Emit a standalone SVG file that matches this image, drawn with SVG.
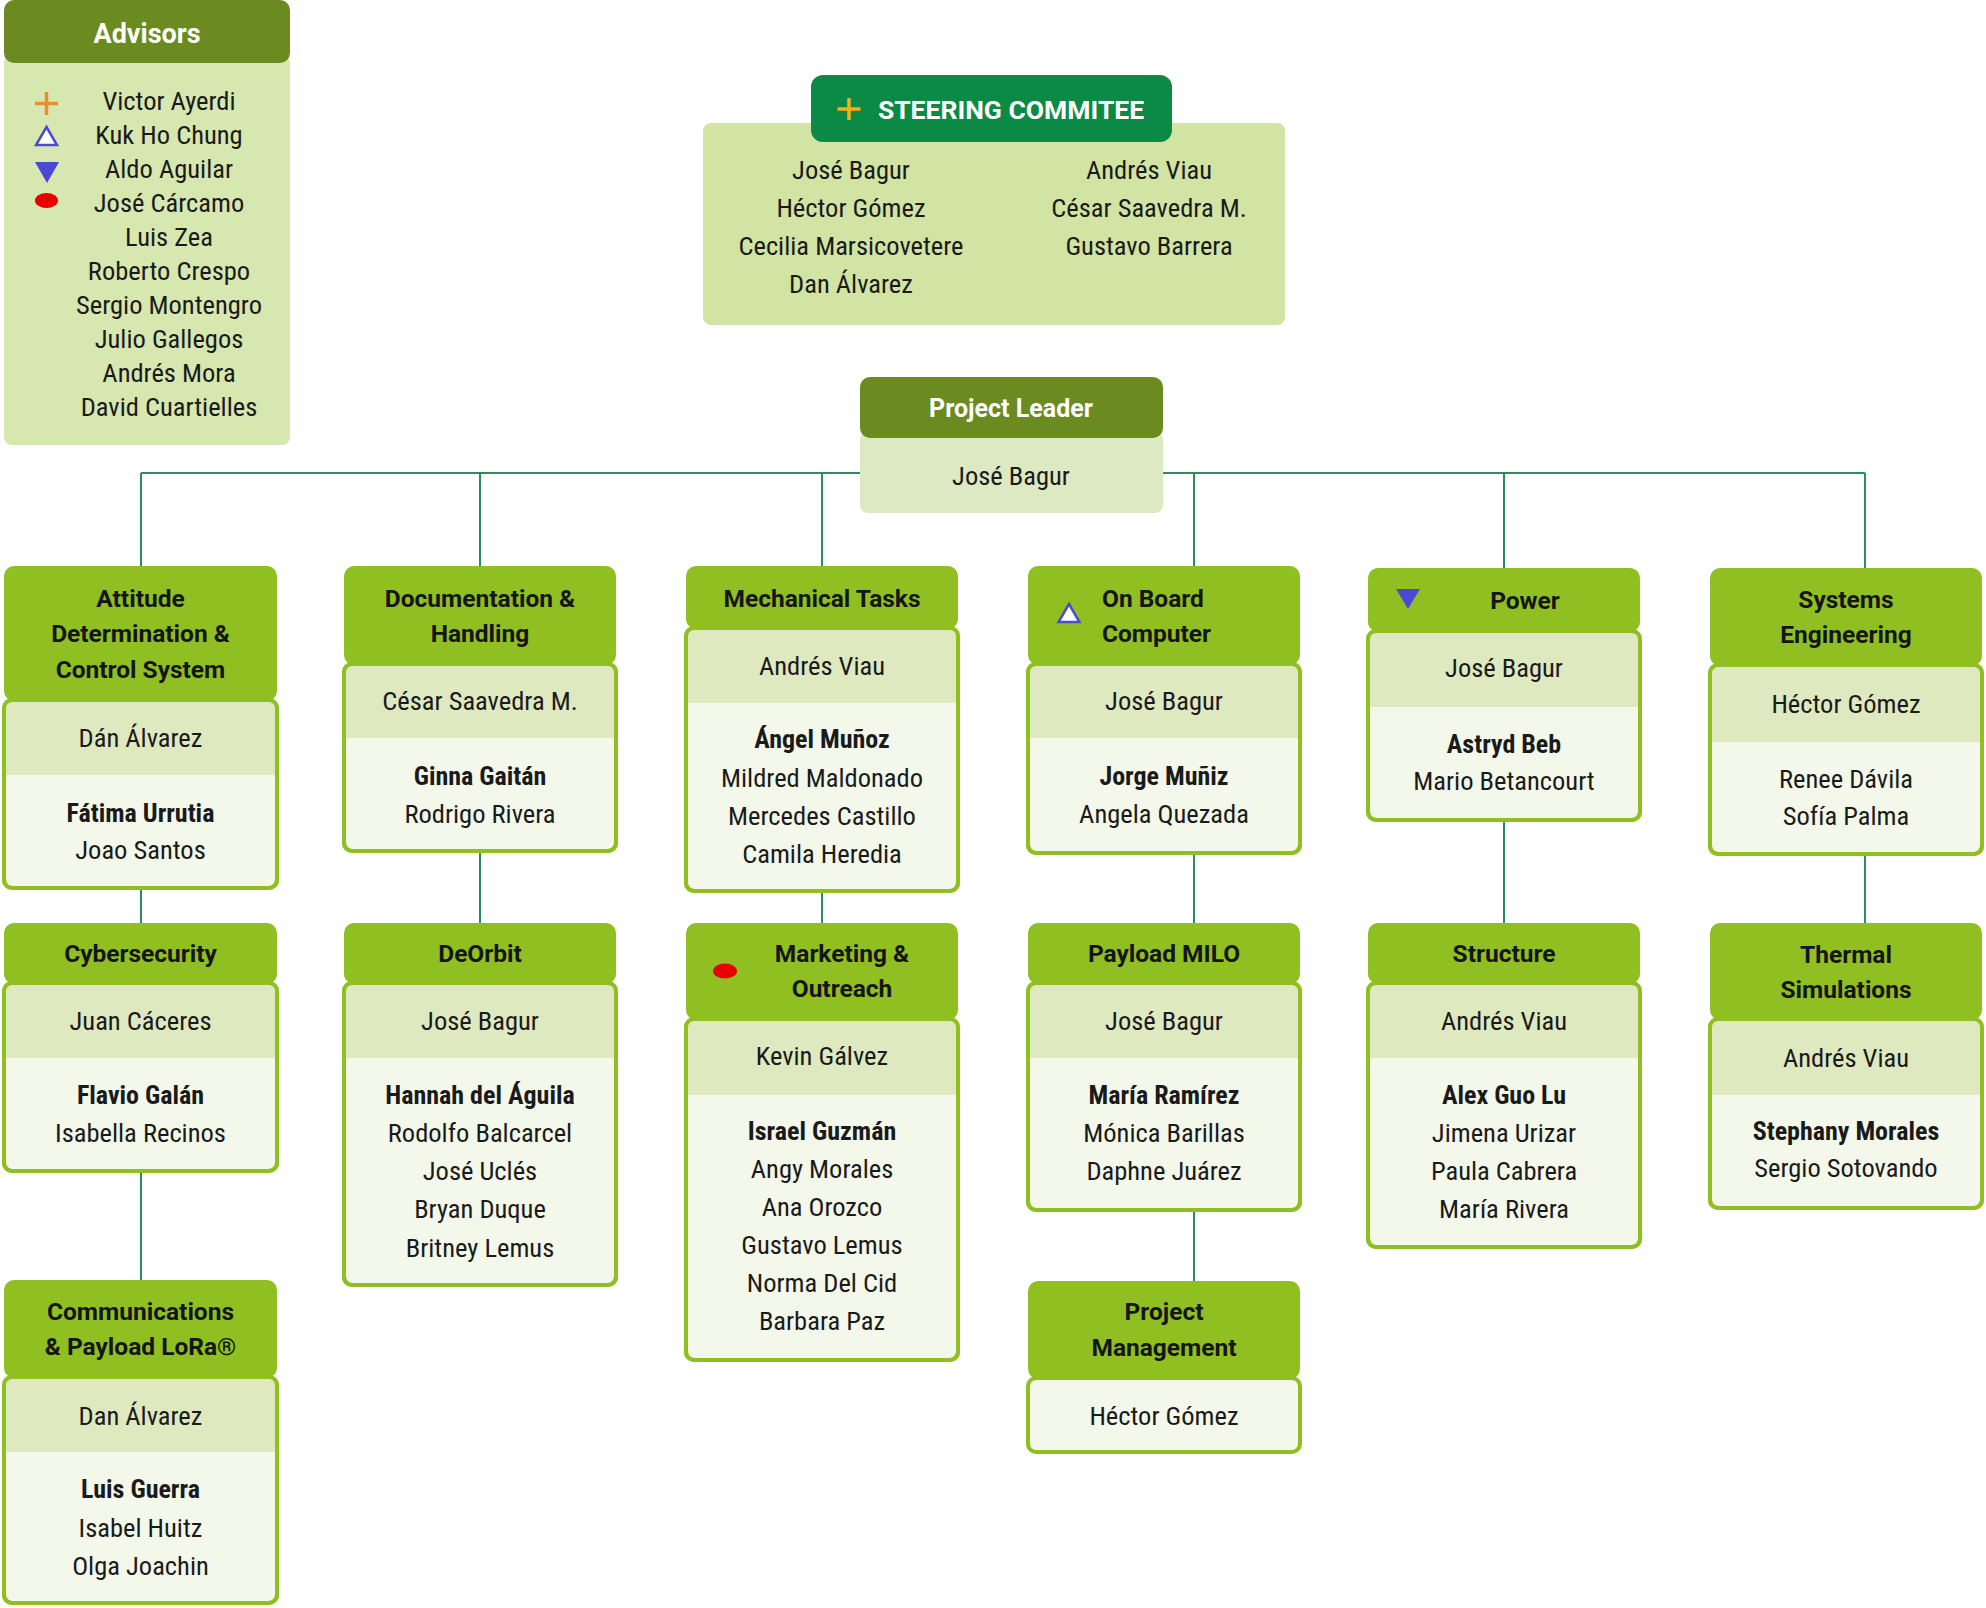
<svg xmlns="http://www.w3.org/2000/svg" width="1986" height="1608" viewBox="0 0 1986 1608">
<style>
.hd{fill:#8fbf21}
.bd{fill:#f3f8ea;stroke:#8fbf21;stroke-width:4}
.bs{fill:none;stroke:#8fbf21;stroke-width:4}
.ld{fill:#dfe9c0}
.t{font-family:Roboto,'Liberation Sans',sans-serif;font-stretch:75%;font-size:26.5px;fill:#1a1a1a;text-anchor:middle}
.b{font-weight:bold;font-stretch:82%;font-size:26px}
.h{font-family:Roboto,'Liberation Sans',sans-serif;font-weight:bold;font-size:24.5px;fill:#151515;text-anchor:middle}
.w{fill:#ffffff}
.cn{stroke:#2b8c5e;stroke-width:2;fill:none}
.up{fill:#ffffff;stroke:#4b4bcf;stroke-width:2.5;stroke-linejoin:miter}
.dn{fill:#4949d6}
.dot{fill:#e80000}
</style>
<rect width="1986" height="1608" fill="#ffffff"/>

<g id="connectors">
<path class="cn" d="M141,473 H1865"/>
<path class="cn" d="M141,473 V566 M480,473 V566 M822,473 V566 M1194,473 V566 M1504,473 V568 M1865,473 V568"/>
<path class="cn" d="M141,890 V923 M141,1173 V1280 M480,853 V923 M822,893 V923 M1194,855 V923 M1194,1212 V1281 M1504,822 V923 M1865,856 V923"/>
</g>

<g id="advisors">
<rect x="4" y="55" width="286" height="390" rx="8" fill="#d6e7b0"/>
<rect x="4" y="0" width="286" height="63" rx="10" fill="#6b8a1f"/>
<text class="h w" x="147" y="43" style="font-size:27px">Advisors</text>
<path d="M35,103.5 H58 M46.5,92 V115" stroke="#f08c28" stroke-width="3.5" fill="none"/>
<polygon class="up" points="46.5,127 57,145 36,145"/>
<polygon class="dn" points="35,162 59,162 47,183"/>
<ellipse class="dot" cx="46.5" cy="200.5" rx="11.5" ry="7.5"/>
<text class="t" x="169" y="110">Victor Ayerdi</text>
<text class="t" x="169" y="144">Kuk Ho Chung</text>
<text class="t" x="169" y="178">Aldo Aguilar</text>
<text class="t" x="169" y="212">José Cárcamo</text>
<text class="t" x="169" y="246">Luis Zea</text>
<text class="t" x="169" y="280">Roberto Crespo</text>
<text class="t" x="169" y="314">Sergio Montengro</text>
<text class="t" x="169" y="348">Julio Gallegos</text>
<text class="t" x="169" y="382">Andrés Mora</text>
<text class="t" x="169" y="416">David Cuartielles</text>
</g>

<g id="steering">
<rect x="703" y="123" width="582" height="202" rx="8" fill="#d2e4a4"/>
<rect x="811" y="75" width="361" height="67" rx="12" fill="#0b8a45"/>
<path d="M837.5,109 H860.5 M849,98 V120" stroke="#f5b01a" stroke-width="3.5" fill="none"/>
<text class="h w" x="1011" y="119" style="font-size:26.5px;font-stretch:91%">STEERING COMMITEE</text>
<text class="t" x="851" y="179">José Bagur</text>
<text class="t" x="851" y="217">Héctor Gómez</text>
<text class="t" x="851" y="255">Cecilia Marsicovetere</text>
<text class="t" x="851" y="293">Dan Álvarez</text>
<text class="t" x="1149" y="179">Andrés Viau</text>
<text class="t" x="1149" y="217">César Saavedra M.</text>
<text class="t" x="1149" y="255">Gustavo Barrera</text>
</g>

<g id="leader">
<rect x="860" y="432" width="303" height="81" rx="8" fill="#dde9c3"/>
<rect x="860" y="377" width="303" height="61" rx="10" fill="#6b8a1f"/>
<text class="h w" x="1011" y="417" style="font-size:25px">Project Leader</text>
<text class="t" x="1011" y="485">José Bagur</text>
</g>

<g id="adcs">
<rect class="bd" x="4" y="700" width="273" height="188" rx="8"/>
<path class="ld" d="M4,775 V708 Q4,700 12,700 H269 Q277,700 277,708 V775 Z"/>
<rect class="bs" x="4" y="700" width="273" height="188" rx="8"/>
<rect class="hd" x="4" y="566" width="273" height="135" rx="10"/>
<text class="h" x="140.5" y="607">Attitude</text>
<text class="h" x="140.5" y="642">Determination &amp;</text>
<text class="h" x="140.5" y="678">Control System</text>
<text class="t" x="140.5" y="747">Dán Álvarez</text>
<text class="t b" x="140.5" y="822">Fátima Urrutia</text>
<text class="t" x="140.5" y="859">Joao Santos</text>
</g>

<g id="documentation">
<rect class="bd" x="344" y="664" width="272" height="187" rx="8"/>
<path class="ld" d="M344,738 V672 Q344,664 352,664 H608 Q616,664 616,672 V738 Z"/>
<rect class="bs" x="344" y="664" width="272" height="187" rx="8"/>
<rect class="hd" x="344" y="566" width="272" height="99" rx="10"/>
<text class="h" x="480" y="607">Documentation &amp;</text>
<text class="h" x="480" y="642">Handling</text>
<text class="t" x="480" y="710">César Saavedra M.</text>
<text class="t b" x="480" y="785">Ginna Gaitán</text>
<text class="t" x="480" y="823">Rodrigo Rivera</text>
</g>

<g id="mechanical">
<rect class="bd" x="686" y="628" width="272" height="263" rx="8"/>
<path class="ld" d="M686,703 V636 Q686,628 694,628 H950 Q958,628 958,636 V703 Z"/>
<rect class="bs" x="686" y="628" width="272" height="263" rx="8"/>
<rect class="hd" x="686" y="566" width="272" height="63" rx="10"/>
<text class="h" x="822" y="607">Mechanical Tasks</text>
<text class="t" x="822" y="675">Andrés Viau</text>
<text class="t b" x="822" y="748">Ángel Muñoz</text>
<text class="t" x="822" y="787">Mildred Maldonado</text>
<text class="t" x="822" y="825">Mercedes Castillo</text>
<text class="t" x="822" y="863">Camila Heredia</text>
</g>

<g id="onboard">
<rect class="bd" x="1028" y="664" width="272" height="189" rx="8"/>
<path class="ld" d="M1028,738 V672 Q1028,664 1036,664 H1292 Q1300,664 1300,672 V738 Z"/>
<rect class="bs" x="1028" y="664" width="272" height="189" rx="8"/>
<rect class="hd" x="1028" y="566" width="272" height="99" rx="10"/>
<polygon class="up" points="1069,604 1079.5,622 1058.5,622"/>
<text class="h" x="1102" y="607" style="text-anchor:start">On Board</text>
<text class="h" x="1102" y="642" style="text-anchor:start">Computer</text>
<text class="t" x="1164" y="710">José Bagur</text>
<text class="t b" x="1164" y="785">Jorge Muñiz</text>
<text class="t" x="1164" y="823">Angela Quezada</text>
</g>

<g id="power">
<rect class="bd" x="1368" y="631" width="272" height="189" rx="8"/>
<path class="ld" d="M1368,707 V639 Q1368,631 1376,631 H1632 Q1640,631 1640,639 V707 Z"/>
<rect class="bs" x="1368" y="631" width="272" height="189" rx="8"/>
<rect class="hd" x="1368" y="568" width="272" height="64" rx="10"/>
<polygon class="dn" points="1396,589 1420,589 1408,609"/>
<text class="h" x="1525" y="609">Power</text>
<text class="t" x="1504" y="677">José Bagur</text>
<text class="t b" x="1504" y="753">Astryd Beb</text>
<text class="t" x="1504" y="790">Mario Betancourt</text>
</g>

<g id="systems">
<rect class="bd" x="1710" y="665" width="272" height="189" rx="8"/>
<path class="ld" d="M1710,742 V673 Q1710,665 1718,665 H1974 Q1982,665 1982,673 V742 Z"/>
<rect class="bs" x="1710" y="665" width="272" height="189" rx="8"/>
<rect class="hd" x="1710" y="568" width="272" height="98" rx="10"/>
<text class="h" x="1846" y="608">Systems</text>
<text class="h" x="1846" y="643">Engineering</text>
<text class="t" x="1846" y="713">Héctor Gómez</text>
<text class="t" x="1846" y="788">Renee Dávila</text>
<text class="t" x="1846" y="825">Sofía Palma</text>
</g>

<g id="cybersecurity">
<rect class="bd" x="4" y="983" width="273" height="188" rx="8"/>
<path class="ld" d="M4,1058 V991 Q4,983 12,983 H269 Q277,983 277,991 V1058 Z"/>
<rect class="bs" x="4" y="983" width="273" height="188" rx="8"/>
<rect class="hd" x="4" y="923" width="273" height="61" rx="10"/>
<text class="h" x="140.5" y="962">Cybersecurity</text>
<text class="t" x="140.5" y="1030">Juan Cáceres</text>
<text class="t b" x="140.5" y="1104">Flavio Galán</text>
<text class="t" x="140.5" y="1142">Isabella Recinos</text>
</g>

<g id="deorbit">
<rect class="bd" x="344" y="983" width="272" height="302" rx="8"/>
<path class="ld" d="M344,1058 V991 Q344,983 352,983 H608 Q616,983 616,991 V1058 Z"/>
<rect class="bs" x="344" y="983" width="272" height="302" rx="8"/>
<rect class="hd" x="344" y="923" width="272" height="61" rx="10"/>
<text class="h" x="480" y="962">DeOrbit</text>
<text class="t" x="480" y="1030">José Bagur</text>
<text class="t b" x="480" y="1104">Hannah del Águila</text>
<text class="t" x="480" y="1142">Rodolfo Balcarcel</text>
<text class="t" x="480" y="1180">José Uclés</text>
<text class="t" x="480" y="1218">Bryan Duque</text>
<text class="t" x="480" y="1257">Britney Lemus</text>
</g>

<g id="marketing">
<rect class="bd" x="686" y="1019" width="272" height="341" rx="8"/>
<path class="ld" d="M686,1095 V1027 Q686,1019 694,1019 H950 Q958,1019 958,1027 V1095 Z"/>
<rect class="bs" x="686" y="1019" width="272" height="341" rx="8"/>
<rect class="hd" x="686" y="923" width="272" height="97" rx="10"/>
<ellipse class="dot" cx="725" cy="971" rx="12" ry="7.5"/>
<text class="h" x="842" y="962">Marketing &amp;</text>
<text class="h" x="842" y="997">Outreach</text>
<text class="t" x="822" y="1065">Kevin Gálvez</text>
<text class="t b" x="822" y="1140">Israel Guzmán</text>
<text class="t" x="822" y="1178">Angy Morales</text>
<text class="t" x="822" y="1216">Ana Orozco</text>
<text class="t" x="822" y="1254">Gustavo Lemus</text>
<text class="t" x="822" y="1292">Norma Del Cid</text>
<text class="t" x="822" y="1330">Barbara Paz</text>
</g>

<g id="payload-milo">
<rect class="bd" x="1028" y="983" width="272" height="227" rx="8"/>
<path class="ld" d="M1028,1058 V991 Q1028,983 1036,983 H1292 Q1300,983 1300,991 V1058 Z"/>
<rect class="bs" x="1028" y="983" width="272" height="227" rx="8"/>
<rect class="hd" x="1028" y="923" width="272" height="61" rx="10"/>
<text class="h" x="1164" y="962">Payload MILO</text>
<text class="t" x="1164" y="1030">José Bagur</text>
<text class="t b" x="1164" y="1104">María Ramírez</text>
<text class="t" x="1164" y="1142">Mónica Barillas</text>
<text class="t" x="1164" y="1180">Daphne Juárez</text>
</g>

<g id="structure">
<rect class="bd" x="1368" y="983" width="272" height="264" rx="8"/>
<path class="ld" d="M1368,1058 V991 Q1368,983 1376,983 H1632 Q1640,983 1640,991 V1058 Z"/>
<rect class="bs" x="1368" y="983" width="272" height="264" rx="8"/>
<rect class="hd" x="1368" y="923" width="272" height="61" rx="10"/>
<text class="h" x="1504" y="962">Structure</text>
<text class="t" x="1504" y="1030">Andrés Viau</text>
<text class="t b" x="1504" y="1104">Alex Guo Lu</text>
<text class="t" x="1504" y="1142">Jimena Urizar</text>
<text class="t" x="1504" y="1180">Paula Cabrera</text>
<text class="t" x="1504" y="1218">María Rivera</text>
</g>

<g id="thermal">
<rect class="bd" x="1710" y="1019" width="272" height="189" rx="8"/>
<path class="ld" d="M1710,1095 V1027 Q1710,1019 1718,1019 H1974 Q1982,1019 1982,1027 V1095 Z"/>
<rect class="bs" x="1710" y="1019" width="272" height="189" rx="8"/>
<rect class="hd" x="1710" y="923" width="272" height="97" rx="10"/>
<text class="h" x="1846" y="963">Thermal</text>
<text class="h" x="1846" y="998">Simulations</text>
<text class="t" x="1846" y="1067">Andrés Viau</text>
<text class="t b" x="1846" y="1140">Stephany Morales</text>
<text class="t" x="1846" y="1177">Sergio Sotovando</text>
</g>

<g id="communications">
<rect class="bd" x="4" y="1377" width="273" height="226" rx="8"/>
<path class="ld" d="M4,1452 V1385 Q4,1377 12,1377 H269 Q277,1377 277,1385 V1452 Z"/>
<rect class="bs" x="4" y="1377" width="273" height="226" rx="8"/>
<rect class="hd" x="4" y="1280" width="273" height="98" rx="10"/>
<text class="h" x="140.5" y="1320">Communications</text>
<text class="h" x="140.5" y="1355">&amp; Payload LoRa®</text>
<text class="t" x="140.5" y="1425">Dan Álvarez</text>
<text class="t b" x="140.5" y="1498">Luis Guerra</text>
<text class="t" x="140.5" y="1537">Isabel Huitz</text>
<text class="t" x="140.5" y="1575">Olga Joachin</text>
</g>

<g id="project-management">
<rect class="bd" x="1028" y="1378" width="272" height="74" rx="8"/>
<rect class="hd" x="1028" y="1281" width="272" height="98" rx="10"/>
<text class="h" x="1164" y="1320">Project</text>
<text class="h" x="1164" y="1356">Management</text>
<text class="t" x="1164" y="1425">Héctor Gómez</text>
</g>
</svg>
